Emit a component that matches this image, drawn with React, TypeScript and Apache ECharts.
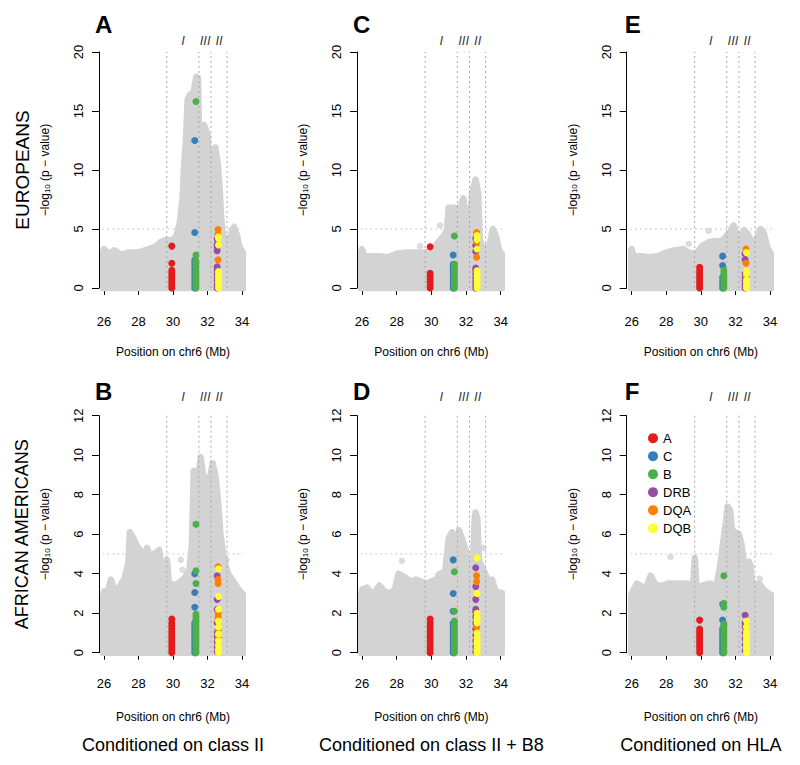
import React, { useEffect, useRef } from 'react';
import * as echarts from 'echarts';

// ---------- data ----------
const GENES = ['A', 'C', 'B', 'DRB', 'DQA', 'DQB'];
const GENE_COLORS = ['#E41A1C', '#377EB8', '#4DAF4A', '#984EA3', '#FF7F00', '#FFFF33'];
const GENE_POS = [29.93, 31.26, 31.33, 32.56, 32.61, 32.64];
const REGION_BOUNDS = [29.64, 31.5, 32.2, 33.13];
const REGION_LABELS = ['I', 'III', 'II'];
const REGION_LABEL_POS = [30.58, 31.86, 32.67];
const X_TICKS = [26, 28, 30, 32, 34];
const THRESHOLD = 5;
const PANEL_LETTERS = ['A', 'C', 'E', 'B', 'D', 'F'];
const ROW_TITLES = ['EUROPEANS', 'AFRICAN AMERICANS'];
const COL_TITLES = ['Conditioned on class II', 'Conditioned on class II + B8', 'Conditioned on HLA'];
const X_TITLE = 'Position on chr6 (Mb)';

// upper envelope of the grey SNP cloud (x Mb, -log10 p)
const envA = [[25.9, 0], [25.9, 2.8], [26.0, 3.3], [26.3, 2.9], [26.6, 3.2], [27.0, 2.8], [27.4, 3.0], [27.8, 3.0], [28.2, 3.1], [28.6, 3.3], [29.0, 3.5], [29.3, 3.9], [29.6, 4.1], [29.9, 4.0], [30.2, 4.4], [30.4, 5.6], [30.55, 7.5], [30.65, 10.5], [30.75, 12.5], [30.85, 16.0], [31.0, 16.4], [31.2, 16.6], [31.35, 17.9], [31.45, 17.8], [31.5, 14.0], [31.6, 13.5], [31.8, 13.8], [32.0, 13.0], [32.1, 11.0], [32.2, 10.0], [32.3, 11.5], [32.45, 11.9], [32.6, 10.5], [32.7, 8.5], [32.8, 5.8], [32.9, 4.6], [33.1, 4.0], [33.3, 4.1], [33.45, 5.0], [33.55, 5.1], [33.7, 4.5], [33.85, 3.5], [34.05, 3.0], [34.1, 0], [25.9, 0]];
const envC = [[25.9, 0], [25.9, 2.8], [26.0, 3.3], [26.1, 2.7], [26.5, 2.7], [27.0, 2.7], [27.5, 2.6], [28.0, 2.9], [28.5, 3.0], [29.0, 3.0], [29.5, 3.0], [29.9, 3.1], [30.2, 3.4], [30.4, 3.9], [30.7, 4.4], [30.9, 4.9], [31.0, 6.8], [31.4, 6.8], [31.6, 6.5], [31.85, 7.6], [32.0, 5.6], [32.2, 5.0], [32.35, 8.0], [32.55, 9.2], [32.7, 8.0], [32.8, 4.0], [33.0, 3.4], [33.35, 3.6], [33.55, 5.0], [33.75, 4.3], [33.9, 3.2], [34.1, 2.8], [34.1, 0], [25.9, 0]];
const envE = [[25.9, 0], [25.9, 2.8], [26.0, 3.3], [26.1, 2.7], [26.6, 2.7], [27.0, 2.6], [27.5, 2.7], [28.0, 3.0], [28.5, 3.2], [29.0, 3.3], [29.4, 2.9], [29.8, 3.0], [30.1, 3.6], [30.5, 3.9], [30.8, 4.0], [31.0, 3.9], [31.3, 4.1], [31.6, 4.6], [31.9, 5.3], [32.1, 4.4], [32.3, 4.3], [32.5, 4.9], [32.7, 4.6], [32.9, 4.0], [33.2, 4.0], [33.45, 5.0], [33.65, 4.6], [33.85, 3.4], [34.1, 2.8], [34.1, 0], [25.9, 0]];
const envB = [[25.9, 0], [25.9, 2.6], [26.0, 3.1], [26.2, 3.0], [26.4, 3.7], [26.6, 3.2], [26.9, 3.3], [27.2, 3.8], [27.4, 4.5], [27.5, 6.1], [27.7, 5.8], [27.9, 5.4], [28.1, 5.2], [28.3, 4.8], [28.5, 5.3], [28.7, 4.7], [28.9, 5.0], [29.2, 5.2], [29.35, 4.0], [29.5, 3.5], [29.65, 4.7], [29.75, 3.6], [30.0, 3.4], [30.3, 3.5], [30.7, 3.8], [30.95, 4.2], [31.1, 5.5], [31.2, 9.2], [31.35, 9.2], [31.45, 8.4], [31.6, 9.9], [31.75, 9.0], [31.9, 8.8], [32.1, 8.6], [32.3, 9.6], [32.45, 9.0], [32.6, 7.8], [32.75, 6.0], [32.9, 5.0], [33.05, 4.4], [33.2, 4.0], [33.5, 3.6], [33.8, 3.2], [34.1, 2.9], [34.1, 0], [25.9, 0]];
const envD = [[25.9, 0], [25.9, 2.6], [26.0, 3.2], [26.3, 3.3], [26.6, 2.9], [27.0, 3.4], [27.3, 3.1], [27.6, 3.0], [27.9, 3.2], [28.1, 4.0], [28.5, 3.8], [28.8, 3.6], [29.1, 3.7], [29.4, 3.6], [29.7, 3.5], [30.0, 3.6], [30.3, 3.7], [30.5, 4.0], [30.8, 4.1], [31.0, 5.8], [31.2, 6.1], [31.4, 5.0], [31.6, 6.2], [31.8, 5.7], [32.0, 5.1], [32.2, 3.8], [32.4, 4.5], [32.5, 6.8], [32.55, 7.1], [32.65, 6.8], [32.75, 4.6], [32.9, 4.4], [33.1, 4.0], [33.3, 3.6], [33.5, 3.7], [33.7, 3.1], [34.1, 3.0], [34.1, 0], [25.9, 0]];
const envF = [[25.9, 0], [25.9, 2.6], [26.0, 3.0], [26.3, 3.5], [26.5, 3.4], [26.8, 3.2], [27.1, 3.9], [27.4, 3.4], [27.8, 3.4], [28.1, 3.5], [28.4, 3.5], [28.8, 3.5], [29.2, 3.5], [29.55, 3.4], [29.65, 4.8], [29.75, 3.3], [30.1, 3.4], [30.5, 3.5], [30.9, 3.4], [31.1, 4.3], [31.25, 5.3], [31.45, 6.6], [31.55, 7.4], [31.7, 7.2], [31.8, 6.2], [32.0, 6.1], [32.2, 6.0], [32.35, 5.5], [32.5, 4.5], [32.8, 4.6], [33.0, 3.4], [33.4, 3.5], [33.6, 3.2], [34.1, 2.9], [34.1, 0], [25.9, 0]];

// isolated grey SNPs above the cloud
const outA = [[32.45, 11.9], [33.55, 5.2]];
const outC = [[29.35, 3.55], [30.5, 5.3]];
const outE = [[29.3, 3.75], [30.45, 4.85]];
const outB = [[30.45, 4.7], [30.55, 4.2], [33.1, 4.7]];
const outD = [[28.3, 4.65], [33.0, 5.3], [30.4, 3.95]];
const outF = [[28.25, 4.85], [32.95, 4.35], [33.4, 3.75]];

// classical HLA allele p-values per gene (order of GENES)
const hitsA = [
  [0, 0.25, 0.5, 0.75, 1.0, 1.25, 1.5, 2.1, 3.55],
  [0, 0.3, 0.6, 0.9, 1.2, 1.5, 1.8, 2.1, 2.35, 4.7, 12.5],
  [0, 0.25, 0.5, 0.75, 1.0, 1.25, 1.5, 1.8, 2.1, 2.3, 2.8, 15.8],
  [0, 0.3, 0.6, 0.9, 1.2, 1.5, 1.8, 3.15, 3.5, 3.7, 4.15],
  [0.5, 1.0, 2.4, 4.55, 4.95],
  [0, 0.25, 0.5, 0.75, 1.0, 1.2, 1.4, 3.65, 4.2, 4.35],
];
const hitsC = [
  [0, 0.25, 0.5, 0.75, 1.0, 1.25, 3.5],
  [0, 0.3, 0.6, 0.9, 1.2, 1.5, 1.8, 2.0, 2.8],
  [0, 0.25, 0.5, 0.75, 1.0, 1.25, 1.5, 1.75, 2.0, 4.4],
  [0, 0.3, 0.6, 0.9, 1.2, 1.5, 1.7, 3.1, 3.6, 4.2],
  [2.6, 3.9, 4.4, 4.7],
  [0, 0.25, 0.5, 0.75, 1.0, 1.25, 1.45, 3.3, 4.1, 4.45],
];
const hitsE = [
  [0, 0.25, 0.5, 0.75, 1.0, 1.25, 1.5, 1.75],
  [0, 0.3, 0.6, 0.9, 1.9, 2.7],
  [0, 0.25, 0.5, 0.75, 1.0, 1.25, 1.5],
  [0, 0.3, 0.6, 0.9, 1.2, 2.4, 2.9],
  [1.0, 2.1, 3.3],
  [0, 0.2, 0.45, 0.65, 1.2, 1.45, 3.0],
];
const hitsB = [
  [0, 0.15, 0.3, 0.45, 0.6, 0.75, 0.9, 1.05, 1.2, 1.35, 1.5, 1.7],
  [0, 0.15, 0.3, 0.45, 0.6, 0.75, 0.9, 1.05, 1.2, 1.35, 1.5, 2.3, 3.05, 4.0],
  [0, 0.15, 0.3, 0.45, 0.6, 0.75, 0.9, 1.05, 1.2, 1.35, 1.5, 1.65, 1.8, 1.95, 3.5, 4.15, 6.5],
  [0.05, 0.3, 0.55, 0.8, 1.05, 1.5, 2.2, 2.7, 3.9],
  [0.1, 0.4, 0.75, 1.15, 1.6, 1.8, 2.0, 3.5, 3.7, 4.35],
  [0, 0.15, 0.35, 0.6, 0.95, 1.3, 1.6, 2.2, 2.85, 4.25],
];
const hitsD = [
  [0, 0.15, 0.3, 0.45, 0.6, 0.75, 0.9, 1.05, 1.2, 1.35, 1.5, 1.7],
  [0, 0.15, 0.3, 0.45, 0.6, 0.75, 0.9, 1.05, 1.2, 1.35, 1.5, 2.1, 3.0, 4.7],
  [0, 0.15, 0.3, 0.45, 0.6, 0.75, 0.9, 1.05, 1.2, 1.35, 1.5, 1.6, 2.1, 4.1],
  [0.05, 0.3, 0.6, 0.9, 1.2, 1.5, 1.8, 2.05, 2.2, 2.7, 3.35, 4.3],
  [0.1, 0.5, 1.0, 1.3, 1.6, 3.6, 3.9],
  [0, 0.15, 0.3, 0.45, 0.6, 0.75, 1.0, 1.5, 1.65, 1.8, 2.0, 3.0, 4.8],
];
const hitsF = [
  [0, 0.15, 0.3, 0.45, 0.6, 0.75, 0.9, 1.05, 1.2, 1.65],
  [0, 0.15, 0.3, 0.45, 0.6, 0.75, 0.9, 1.05, 1.2, 1.65, 2.45],
  [0, 0.15, 0.3, 0.45, 0.6, 0.75, 0.9, 1.05, 1.2, 1.35, 1.45, 2.3, 2.5, 3.9],
  [0.1, 0.4, 0.7, 1.0, 1.3, 1.5, 1.9],
  [0.9, 1.3],
  [0, 0.15, 0.3, 0.45, 0.6, 0.75, 0.9, 1.05, 1.3, 1.6],
];

// ---------- layout ----------
const FONT = '"Liberation Sans", Arial, Helvetica, sans-serif';
const GRAY = '#D3D3D3';
const COL_X = [[104, 242], [362, 500.7], [631.7, 770]];
const ROWS = [
  { y0: 288, yTop: 52, ymax: 20, interval: 5, axisOffset: 12, letterY: 24, regionY: 40, xTitleY: 352 },
  { y0: 652.7, yTop: 415.7, ymax: 12, interval: 2, axisOffset: 9.6, letterY: 391, regionY: 396.7, xTitleY: 716.7 },
];
const PANELS = [
  { env: envA, out: outA, hits: hitsA, row: 0, col: 0 },
  { env: envC, out: outC, hits: hitsC, row: 0, col: 1 },
  { env: envE, out: outE, hits: hitsE, row: 0, col: 2 },
  { env: envB, out: outB, hits: hitsB, row: 1, col: 0 },
  { env: envD, out: outD, hits: hitsD, row: 1, col: 1 },
  { env: envF, out: outF, hits: hitsF, row: 1, col: 2 },
];

function buildOption() {
  const grid: any[] = [];
  const xAxis: any[] = [];
  const yAxis: any[] = [];
  const series: any[] = [];
  const graphic: any[] = [];

  PANELS.forEach((p, i) => {
    const r = ROWS[p.row];
    const c = COL_X[p.col];
    grid.push({ left: c[0], width: c[1] - c[0], top: r.yTop, height: r.y0 - r.yTop, containLabel: false });
    xAxis.push({
      type: 'value', gridIndex: i, min: X_TICKS[0], max: X_TICKS[X_TICKS.length - 1], interval: 2,
      offset: r.axisOffset,
      axisLine: { show: true, lineStyle: { color: '#000', width: 1 } },
      axisTick: { show: true, length: 7, lineStyle: { color: '#000', width: 1 } },
      axisLabel: { fontSize: 13, color: '#000', margin: 15, fontFamily: FONT },
      splitLine: { show: false },
    });
    yAxis.push({
      type: 'value', gridIndex: i, min: 0, max: r.ymax, interval: r.interval,
      offset: 5,
      axisLine: { show: true, lineStyle: { color: '#000', width: 1 } },
      axisTick: { show: true, length: 7, lineStyle: { color: '#000', width: 1 } },
      axisLabel: { fontSize: 13, color: '#000', margin: 14, rotate: 90, fontFamily: FONT },
      splitLine: { show: false },
    });

    // threshold line (behind points)
    series.push({
      type: 'line', xAxisIndex: i, yAxisIndex: i, silent: true, clip: false, z: 1,
      symbol: 'none', data: [[25.9, THRESHOLD], [34.1, THRESHOLD]],
      lineStyle: { color: '#C8C8C8', width: 1, type: [2, 3] },
    });
    // grey SNP cloud
    series.push({
      type: 'line', xAxisIndex: i, yAxisIndex: i, silent: true, clip: false, z: 2,
      symbol: 'none', showSymbol: false, data: p.env,
      lineStyle: { color: GRAY, width: 6.5, join: 'round', cap: 'round' },
      areaStyle: { color: GRAY, opacity: 1 },
    });
    series.push({
      type: 'scatter', xAxisIndex: i, yAxisIndex: i, silent: true, clip: false, z: 2,
      symbolSize: 6.5, data: p.out, itemStyle: { color: GRAY },
    });
    // region boundaries
    REGION_BOUNDS.forEach((b) => {
      series.push({
        type: 'line', xAxisIndex: i, yAxisIndex: i, silent: true, clip: false, z: 3,
        symbol: 'none', data: [[b, 0], [b, r.ymax]],
        lineStyle: { color: '#A8A8A8', width: 1, type: [2, 3] },
      });
    });
    // classical HLA alleles
    GENES.forEach((g, gi) => {
      series.push({
        type: 'scatter', name: g, xAxisIndex: i, yAxisIndex: i, silent: true, clip: false, z: 4 + gi,
        symbolSize: 7, data: p.hits[gi].map((v) => [GENE_POS[gi], v]),
        itemStyle: { color: GENE_COLORS[gi], opacity: 1 },
      });
    });
    // region labels
    const ly = r.ymax * (r.y0 - r.regionY) / (r.y0 - r.yTop);
    series.push({
      type: 'scatter', xAxisIndex: i, yAxisIndex: i, silent: true, clip: false, z: 10,
      symbolSize: 1, itemStyle: { color: 'rgba(0,0,0,0)' },
      data: REGION_LABELS.map((t, k) => ({ value: [REGION_LABEL_POS[k], ly], name: t })),
      label: {
        show: true, position: 'inside', formatter: (d: any) => d.name,
        fontSize: 13, fontStyle: 'italic', color: '#000', fontFamily: FONT,
      },
    });

    // texts
    graphic.push({
      type: 'text', x: c[0] - 9 - (p.col === 2 ? -2 : 0), y: r.letterY,
      style: { text: PANEL_LETTERS[i], fontSize: 24, fontWeight: 'bold', fontFamily: FONT, fill: '#000', align: 'left', verticalAlign: 'middle' },
    });
    graphic.push({
      type: 'text', x: c[0] - 59, y: (r.y0 + r.yTop) / 2, rotation: Math.PI / 2,
      style: {
        text: '\u2212log{s|10} (p \u2212 value)', fontSize: 12, fontFamily: FONT, fill: '#000',
        align: 'center', verticalAlign: 'middle',
        rich: { s: { fontSize: 8, fontFamily: FONT, fill: '#000', verticalAlign: 'bottom', lineHeight: 8 } },
      },
    });
    graphic.push({
      type: 'text', x: (c[0] + c[1]) / 2, y: r.xTitleY,
      style: { text: X_TITLE, fontSize: 12, fontFamily: FONT, fill: '#000', align: 'center', verticalAlign: 'middle' },
    });
  });

  ROW_TITLES.forEach((t, k) => {
    const r = ROWS[k];
    graphic.push({
      type: 'text', x: 22, y: (r.y0 + r.yTop) / 2, rotation: Math.PI / 2,
      style: { text: t, fontSize: k === 0 ? 19 : 18, fontFamily: FONT, fill: '#000', align: 'center', verticalAlign: 'middle' },
    });
  });
  COL_TITLES.forEach((t, k) => {
    const c = COL_X[k];
    graphic.push({
      type: 'text', x: (c[0] + c[1]) / 2, y: 745,
      style: { text: t, fontSize: 18, fontFamily: FONT, fill: '#000', align: 'center', verticalAlign: 'middle' },
    });
  });

  return {
    animation: false,
    backgroundColor: '#fff',
    textStyle: { fontFamily: FONT },
    grid, xAxis, yAxis, series, graphic,
    legend: {
      data: GENES, orient: 'vertical', left: 643, top: 426.7,
      itemWidth: 10, itemHeight: 10, itemGap: 5, icon: 'circle',
      textStyle: { fontSize: 13, color: '#000', fontFamily: FONT },
      selectedMode: false,
    },
  };
}

export default function App() {
  const ref = useRef<HTMLDivElement>(null);
  useEffect(() => {
    const chart = echarts.init(ref.current!, undefined, { renderer: 'svg' });
    chart.setOption(buildOption() as any);
    return () => chart.dispose();
  }, []);
  return (
    <div
      ref={ref}
      style={{ position: 'fixed', left: 0, top: 0, width: 800, height: 765, background: '#fff' }}
    />
  );
}
